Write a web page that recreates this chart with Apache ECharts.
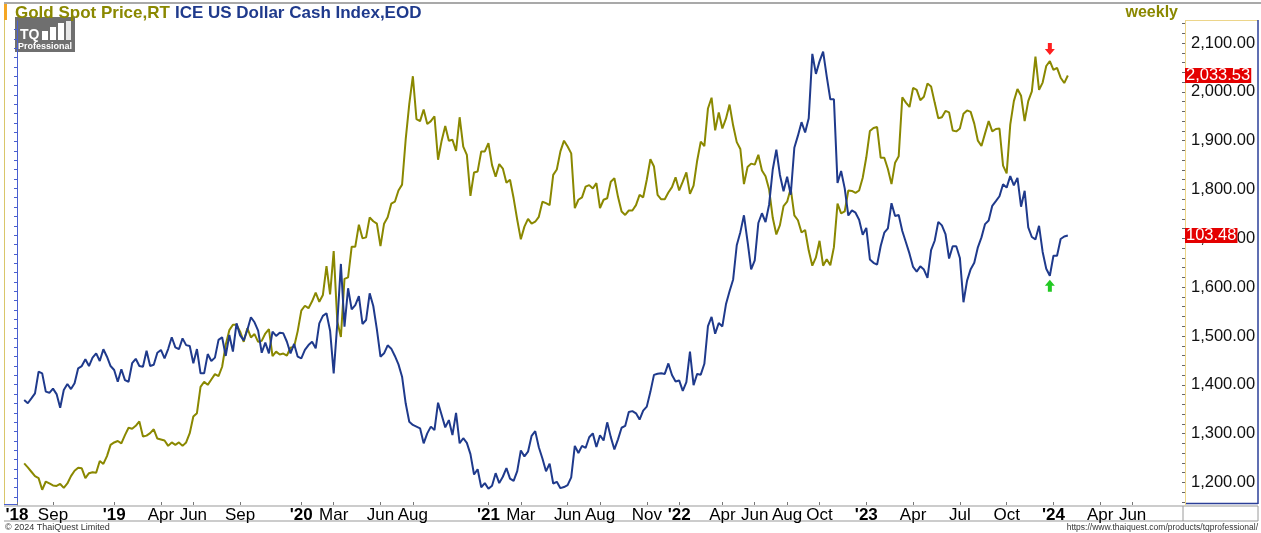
<!DOCTYPE html>
<html><head><meta charset="utf-8">
<script src="https://cdn.jsdelivr.net/npm/echarts@6/dist/echarts.min.js"></script>
<style>html,body{margin:0;padding:0;background:#fff}#c{width:1261px;height:533px}</style>
</head><body><div id="c"></div>
<script>
// Weekly closes, first point = week of 2018-07-13
const gold = [
1239,1231,1222,1213,1209,1185,1202,1198,1194,1193,
1197,1189,1198,1213,1224,1230,1229,1209,1219,1221,
1220,1244,1238,1254,1277,1282,1285,1280,1297,1312,
1310,1316,1325,1294,1296,1301,1309,1290,1288,1286,
1275,1282,1277,1282,1275,1282,1301,1335,1342,1396,
1406,1400,1411,1422,1418,1437,1482,1512,1523,1523,
1509,1488,1516,1497,1504,1488,1490,1505,1514,1459,
1468,1462,1464,1460,1476,1478,1510,1552,1562,1557,
1571,1589,1570,1584,1643,1585,1674,1530,1498,1617,
1620,1683,1683,1728,1700,1702,1743,1735,1730,1684,
1730,1743,1771,1775,1798,1810,1902,1975,2032,1944,
1940,1964,1934,1940,1950,1861,1900,1930,1900,1902,
1879,1948,1888,1871,1787,1835,1837,1878,1878,1895,
1850,1826,1852,1843,1814,1820,1782,1738,1698,1724,
1740,1730,1734,1744,1775,1772,1768,1830,1841,1878,
1900,1888,1874,1762,1779,1784,1806,1809,1802,1813,
1762,1779,1782,1816,1823,1785,1755,1748,1757,1757,
1768,1789,1784,1820,1862,1847,1789,1780,1780,1794,
1805,1825,1798,1816,1835,1791,1808,1859,1898,1889,
1966,1988,1921,1958,1925,1945,1974,1931,1897,1883,
1811,1846,1853,1851,1871,1839,1827,1800,1742,1708,
1727,1766,1775,1802,1747,1737,1712,1717,1675,1644,
1661,1695,1644,1657,1645,1682,1771,1751,1755,1798,
1797,1793,1798,1824,1866,1920,1926,1928,1865,1865,
1842,1811,1855,1868,1989,1978,1969,2008,2004,1983,
1990,2017,2011,1978,1946,1948,1961,1958,1921,1919,
1925,1955,1962,1959,1935,1900,1889,1915,1940,1919,
1924,1925,1849,1833,1933,1981,2006,1992,1940,1981,
2001,2072,2004,2019,2053,2063,2045,2049,2029,2018,
2033.53
];
const dollar = [
94.68,94.51,94.77,95.04,96.20,96.11,95.13,95.07,95.29,95.00,
94.27,95.22,95.54,95.27,95.58,96.38,96.50,96.86,96.50,96.95,
97.18,96.77,97.40,97.00,96.50,96.29,95.66,96.33,95.75,95.66,
96.65,96.89,96.50,96.46,97.32,96.50,96.57,97.21,97.36,96.91,
97.41,98.04,97.50,97.40,97.98,97.62,97.57,96.65,97.41,96.11,
96.11,97.14,96.77,96.95,97.90,98.04,97.04,98.16,97.27,98.78,
98.14,97.87,98.43,99.11,98.84,98.39,97.21,97.75,97.18,98.34,
98.11,98.28,98.25,97.80,97.18,97.68,97.00,96.91,97.36,97.62,
97.80,97.45,98.78,99.18,99.32,98.39,96.11,98.78,101.96,98.60,
100.66,99.53,99.76,100.24,98.75,98.96,100.39,99.71,98.46,97.00,
97.18,97.61,97.43,97.04,96.59,95.93,94.51,93.52,93.35,93.26,
93.17,92.37,92.90,93.26,93.08,94.54,93.88,93.22,93.61,92.81,
94.00,92.37,92.64,92.39,91.79,90.70,90.98,90.02,90.24,89.94,
90.10,90.77,90.24,90.58,91.04,90.48,90.36,90.88,91.99,91.67,
91.92,92.77,93.02,92.16,91.56,90.87,91.28,90.22,90.31,89.97,
90.03,90.13,90.55,92.23,91.85,92.23,92.12,92.69,92.90,92.17,
92.80,92.52,93.49,92.70,92.04,92.58,93.20,93.30,94.04,94.09,
93.97,93.64,94.12,94.33,95.12,96.03,96.09,96.12,96.08,96.64,
96.02,95.67,95.73,95.17,95.64,97.27,95.48,96.08,96.04,96.62,
98.64,99.13,98.23,98.80,98.62,99.80,100.50,101.13,102.96,103.66,
104.56,103.16,101.67,102.15,104.15,104.67,104.20,105.14,107.01,108.07,
106.72,105.85,106.62,105.66,108.17,108.82,109.54,108.99,109.75,113.19,
112.12,112.79,113.31,111.99,110.76,110.76,106.29,106.93,106.00,104.55,
104.82,104.70,104.32,103.52,103.89,102.20,102.02,101.92,102.92,103.63,
103.86,105.21,104.52,104.58,103.72,103.12,102.51,101.80,101.55,101.83,
101.66,101.22,102.70,103.20,104.21,104.02,103.56,102.25,102.91,102.91,
102.28,99.91,101.07,101.68,102.02,102.85,103.38,104.09,104.28,105.07,
105.32,105.58,106.22,106.04,106.66,106.16,106.56,105.02,105.87,103.92,
103.40,103.27,104.00,102.60,101.70,101.33,102.40,102.40,103.29,103.43,
103.48
];
const axisStart = '2018-06-29';
const axisWeeks = 325;
const dataStart = '2018-07-13';
const tickDates = ['2018-06-29','2018-09-07','2019-01-04','2019-04-05','2019-06-07','2019-09-06',
  '2020-01-03','2020-03-06','2020-06-05','2020-08-07','2021-01-01','2021-03-05','2021-06-04',
  '2021-08-06','2021-11-05','2022-01-07','2022-04-01','2022-06-03','2022-08-05','2022-10-07',
  '2023-01-06','2023-04-07','2023-07-07','2023-10-06','2024-01-05','2024-04-05','2024-06-07'];
const tickTexts = ["'18",'Sep',"'19",'Apr','Jun','Sep',"'20",'Mar','Jun','Aug',"'21",'Mar','Jun',
  'Aug','Nov',"'22",'Apr','Jun','Aug','Oct',"'23",'Apr','Jul','Oct',"'24",'Apr','Jun'];
const goldLabels = [1200,1300,1400,1500,1600,1700,1800,1900,2000,2100];
const markIndex = 285;

function weeks(start, n) {
  const t0 = Date.parse(start + 'T00:00:00Z');
  return Array.from({length: n}, (_, k) => new Date(t0 + k * 7 * 864e5).toISOString().slice(0, 10));
}
const categories = weeks(axisStart, axisWeeks);
const dataDates = weeks(dataStart, gold.length);
const tickSet = new Set(tickDates);
const FONT = "'Liberation Sans', Arial, sans-serif";
const GOLD = '#8a8800', USD = '#1f3a8c';
const goldMinor = []; for (let v = 1160; v <= 2140; v += 20) goldMinor.push(v);
const usdMinor = []; for (let v = 89.5; v <= 114.6; v += 0.5) usdMinor.push(+v.toFixed(1));
const fmt2 = v => v.toLocaleString('en-US', {minimumFractionDigits: 2, maximumFractionDigits: 2});
const goldLast = gold[gold.length - 1], usdLast = dollar[dollar.length - 1];
const downArrow = 'path://M3,0L7,0L7,6L10,6L5,12L0,6L3,6Z';
const upArrow = 'path://M5,0L10,6L7,6L7,12L3,12L3,6L0,6Z';

const valueTag = (value, txt) => ({
  silent: true, symbol: ['none', 'none'],
  lineStyle: {color: 'rgba(0,0,0,0)', width: 0, type: 'solid'},
  label: {show: true, position: 'end', distance: 2, formatter: txt, color: '#fff',
    backgroundColor: '#e40000', fontSize: 16.5, fontFamily: FONT, padding: [0, 1, 0, 1], lineHeight: 15},
  emphasis: {disabled: true},
  data: [{yAxis: value}]
});

const chart = echarts.init(document.getElementById('c'), null, {renderer: 'canvas'});
chart.setOption({
  animation: false,
  backgroundColor: '#fff',
  title: {
    text: '{g|Gold Spot Price,RT} {d|ICE US Dollar Cash Index,EOD}',
    left: 15, top: 4, padding: 0,
    textStyle: {rich: {
      g: {color: GOLD, fontWeight: 'bold', fontSize: 17, fontFamily: FONT},
      d: {color: USD, fontWeight: 'bold', fontSize: 17, fontFamily: FONT}
    }}
  },
  grid: {left: 17, right: 78, top: 21, bottom: 28, containLabel: false},
  xAxis: {
    type: 'category', data: categories, boundaryGap: false,
    axisLine: {show: false},
    axisTick: {show: true, inside: true, length: 3, interval: (i, v) => tickSet.has(v), lineStyle: {color: '#777'}},
    axisLabel: {
      interval: (i, v) => tickSet.has(v), margin: 2,
      formatter: v => { const t = tickTexts[tickDates.indexOf(v)]; return t.charAt(0) === "'" ? '{y|' + t + '}' : '{m|' + t + '}'; },
      rich: {y: {fontWeight: 'bold', fontSize: 17, fontFamily: FONT, color: '#000'},
             m: {fontSize: 17, fontFamily: FONT, color: '#000'}}
    },
    splitLine: {show: false}
  },
  yAxis: [
    {type: 'value', position: 'right', min: 1153.9, max: 2145.1, offset: 2,
     axisLine: {show: true, lineStyle: {color: '#ecd58a', width: 1}},
     axisTick: {show: true, inside: true, length: 3, customValues: goldMinor, lineStyle: {color: '#666'}},
     axisLabel: {customValues: goldLabels, formatter: fmt2, margin: 6, color: '#111', fontSize: 16.5, fontFamily: FONT},
     splitLine: {show: false}},
    {type: 'value', position: 'left', min: 89.07, max: 114.95,
     axisLine: {show: true, lineStyle: {color: '#4a5fd0', width: 1}},
     axisTick: {show: true, length: 3, customValues: usdMinor, lineStyle: {color: '#4a5fd0'}},
     axisLabel: {show: false}, splitLine: {show: false}}
  ],
  series: [
    {type: 'line', name: 'Gold Spot Price', yAxisIndex: 0, showSymbol: false, symbol: 'none', clip: false,
     data: dataDates.map((d, k) => [d, gold[k]]),
     lineStyle: {color: GOLD, width: 2}, itemStyle: {color: GOLD}, z: 3,
     markLine: valueTag(goldLast, fmt2(goldLast)),
     markPoint: {silent: true, data: [{coord: [dataDates[markIndex], gold[markIndex]], symbol: downArrow,
       symbolSize: [10, 12], symbolOffset: [0, -12], itemStyle: {color: '#ff1f1f'}, label: {show: false}}]}
    },
    {type: 'line', name: 'ICE US Dollar Cash Index', yAxisIndex: 1, showSymbol: false, symbol: 'none', clip: false,
     data: dataDates.map((d, k) => [d, dollar[k]]),
     lineStyle: {color: USD, width: 2}, itemStyle: {color: USD}, z: 4,
     markLine: valueTag(usdLast, usdLast.toFixed(2)),
     markPoint: {silent: true, data: [{coord: [dataDates[markIndex], dollar[markIndex]], symbol: upArrow,
       symbolSize: [10, 12], symbolOffset: [0, 10], itemStyle: {color: '#22c922'}, label: {show: false}}]}
    }
  ],
  graphic: [
    {type: 'line', shape: {x1: 4, y1: 3, x2: 1261, y2: 3}, style: {stroke: '#8c8c8c', lineWidth: 1.5}},
    {type: 'rect', shape: {x: 4, y: 4, width: 3, height: 16}, style: {fill: '#f5a623'}},
    {type: 'text', style: {text: 'weekly', x: 1178, y: 13, align: 'right', verticalAlign: 'middle', fill: GOLD, font: 'bold 16px ' + FONT}},
    {type: 'line', shape: {x1: 4.5, y1: 20, x2: 4.5, y2: 505}, style: {stroke: '#d9c66a', lineWidth: 1}},
    {type: 'line', shape: {x1: 4, y1: 504.5, x2: 17, y2: 504.5}, style: {stroke: '#4a5fd0', lineWidth: 1}},
    {type: 'line', shape: {x1: 1185, y1: 20.5, x2: 1258, y2: 20.5}, style: {stroke: '#ecd58a', lineWidth: 1}},
    {type: 'line', shape: {x1: 1258, y1: 20, x2: 1258, y2: 504}, style: {stroke: '#2b3f98', lineWidth: 1.5}},
    {type: 'line', shape: {x1: 1185, y1: 503.5, x2: 1258, y2: 503.5}, style: {stroke: '#2b3f98', lineWidth: 1.5}},
    {type: 'line', shape: {x1: 4, y1: 506, x2: 1258, y2: 506}, style: {stroke: '#9a9a9a', lineWidth: 1.2}},
    {type: 'line', shape: {x1: 4, y1: 521, x2: 1258, y2: 521}, style: {stroke: '#9a9a9a', lineWidth: 1.2}},
    {type: 'line', shape: {x1: 1183, y1: 506, x2: 1183, y2: 521}, style: {stroke: '#9a9a9a', lineWidth: 1}},
    {type: 'line', shape: {x1: 1258, y1: 506, x2: 1258, y2: 521}, style: {stroke: '#9a9a9a', lineWidth: 1}},
    {type: 'text', style: {text: '\u00a9 2024 ThaiQuest Limited', x: 5, y: 527.5, verticalAlign: 'middle', fill: '#333', font: '9px ' + FONT}},
    {type: 'text', style: {text: 'https://www.thaiquest.com/products/tqprofessional/', x: 1258, y: 528, align: 'right', verticalAlign: 'middle', fill: '#333', font: '8.5px ' + FONT}},
    {type: 'group', z: 100, children: [
      {type: 'rect', shape: {x: 15, y: 17, width: 60, height: 35}, style: {fill: 'rgba(95,95,95,0.9)'}},
      {type: 'text', style: {text: 'TQ', x: 20, y: 35.5, verticalAlign: 'middle', fill: '#fff', font: 'bold 14px ' + FONT}},
      {type: 'rect', shape: {x: 42, y: 31, width: 6, height: 9}, style: {fill: '#fff'}},
      {type: 'rect', shape: {x: 50, y: 27, width: 6, height: 13}, style: {fill: '#fff'}},
      {type: 'rect', shape: {x: 58, y: 23, width: 6, height: 17}, style: {fill: '#fff'}},
      {type: 'rect', shape: {x: 66, y: 21, width: 5, height: 19}, style: {fill: '#e8e8e8'}},
      {type: 'text', style: {text: 'Professional', x: 18, y: 46.5, verticalAlign: 'middle', fill: '#fff', font: 'bold 9px ' + FONT}}
    ]}
  ]
});
</script>
</body></html>
